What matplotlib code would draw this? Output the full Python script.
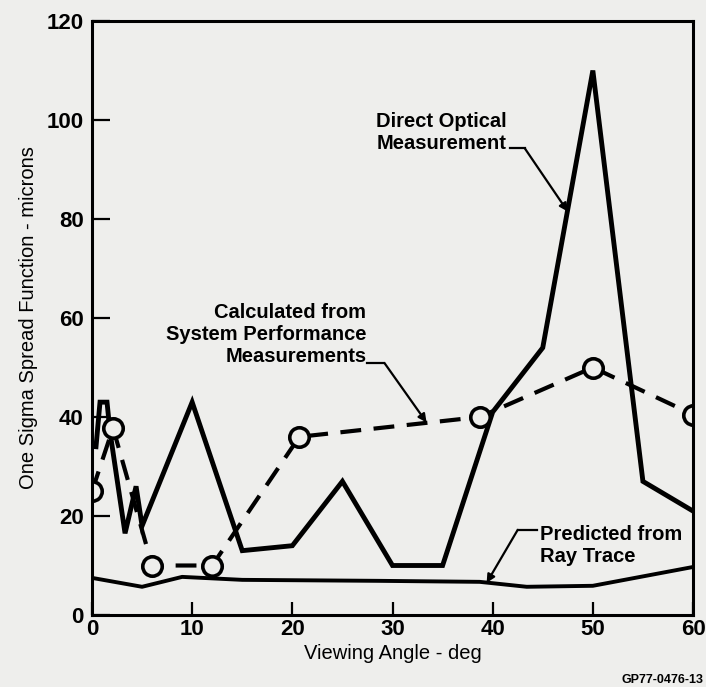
#Spread function vs viewing angle, recreated from a scanned report figure
import matplotlib.pyplot as plt

#Data
#Direct optical measurement (solid line)
direct_angle = [0.4, 0.8, 1.5, 1.8, 3.3, 4.4, 5.0, 10, 15, 20, 25, 30, 35, 40, 45, 50, 55, 60]
direct_sigma = [34, 43, 43, 37, 16.5, 26, 18, 43, 13, 14, 27, 10, 10, 41, 54, 110, 27, 21]

#Calculated from system performance measurements (dashed line with circles)
calc_angle = [0, 2.1, 6, 12, 20.7, 38.7, 50, 60]
calc_sigma = [25, 37.8, 10, 10, 36, 40, 50, 40.5]

#Predicted from ray trace (solid line)
ray_angle = [0, 5, 9, 15, 28.7, 38.7, 43.4, 50, 60]
ray_sigma = [7.5, 5.7, 7.7, 7.1, 6.9, 6.7, 5.7, 5.9, 9.7]

x_ticks = [0, 10, 20, 30, 40, 50, 60]
y_ticks = [0, 20, 40, 60, 80, 100, 120]

paper = '#eeeeec'
font_main = ['Liberation Sans', 'DejaVu Sans']

plt.rcParams['font.family'] = font_main

fig = plt.figure(figsize=(7.06, 6.87), dpi=100, facecolor=paper)
ax = fig.add_axes([0.1303, 0.1048, 0.8513, 0.8646], facecolor=paper)

# curves
ax.plot(direct_angle, direct_sigma, color='black', lw=3.5, solid_joinstyle='miter')
ax.plot(ray_angle, ray_sigma, color='black', lw=2.8)
ax.plot(calc_angle, calc_sigma, color='black', lw=3.0, linestyle=(0, (5, 3)),
        marker='o', markersize=14, markerfacecolor=paper, markeredgewidth=2.6,
        markeredgecolor='black')

# axes settings
ax.set_xlim(0, 60)
ax.set_ylim(0, 120)
ax.set_xticks(x_ticks)
ax.set_yticks(y_ticks)
ax.tick_params(axis='y', direction='in', length=13, width=1.6, pad=6, labelsize=16)
ax.tick_params(axis='x', direction='in', length=9.5, width=1.6, pad=3, labelsize=16)
for lab in ax.get_xticklabels() + ax.get_yticklabels():
    lab.set_fontweight('bold')
for s in ax.spines.values():
    s.set_linewidth(2.2)

ax.set_xlabel('Viewing Angle - deg', fontsize=14.5, labelpad=3)
ax.set_ylabel('One Sigma Spread Function - microns', fontsize=14.5, labelpad=6)

# labels with leader lines
txt = dict(fontsize=14.5, fontweight='bold', color='black')
arrow = dict(arrowstyle='-|>', lw=1.6, color='black', shrinkA=0, shrinkB=0,
             mutation_scale=12)

ax.text(41.4, 97.4, 'Direct Optical\nMeasurement', ha='right', va='center',
        multialignment='right', **txt)
ax.plot([41.7, 43.2], [94.3, 94.3], color='black', lw=1.6)
ax.annotate('', xy=(47.5, 81.5), xytext=(43.2, 94.3), arrowprops=arrow)

ax.text(27.4, 56.6, 'Calculated from\nSystem Performance\nMeasurements',
        ha='right', va='center', multialignment='right', **txt)
ax.plot([27.5, 29.2], [50.9, 50.9], color='black', lw=1.6)
ax.annotate('', xy=(33.4, 38.9), xytext=(29.2, 50.9), arrowprops=arrow)

ax.text(44.7, 14.1, 'Predicted from\nRay Trace', ha='left', va='center',
        multialignment='left', **txt)
ax.plot([44.4, 42.5], [17.2, 17.2], color='black', lw=1.6)
ax.annotate('', xy=(39.4, 6.5), xytext=(42.5, 17.2), arrowprops=arrow)

fig.text(0.996, 0.01, 'GP77-0476-13', ha='right', va='center', fontsize=9,
         fontweight='bold')

plt.savefig('out.png', dpi=100, facecolor=paper)
